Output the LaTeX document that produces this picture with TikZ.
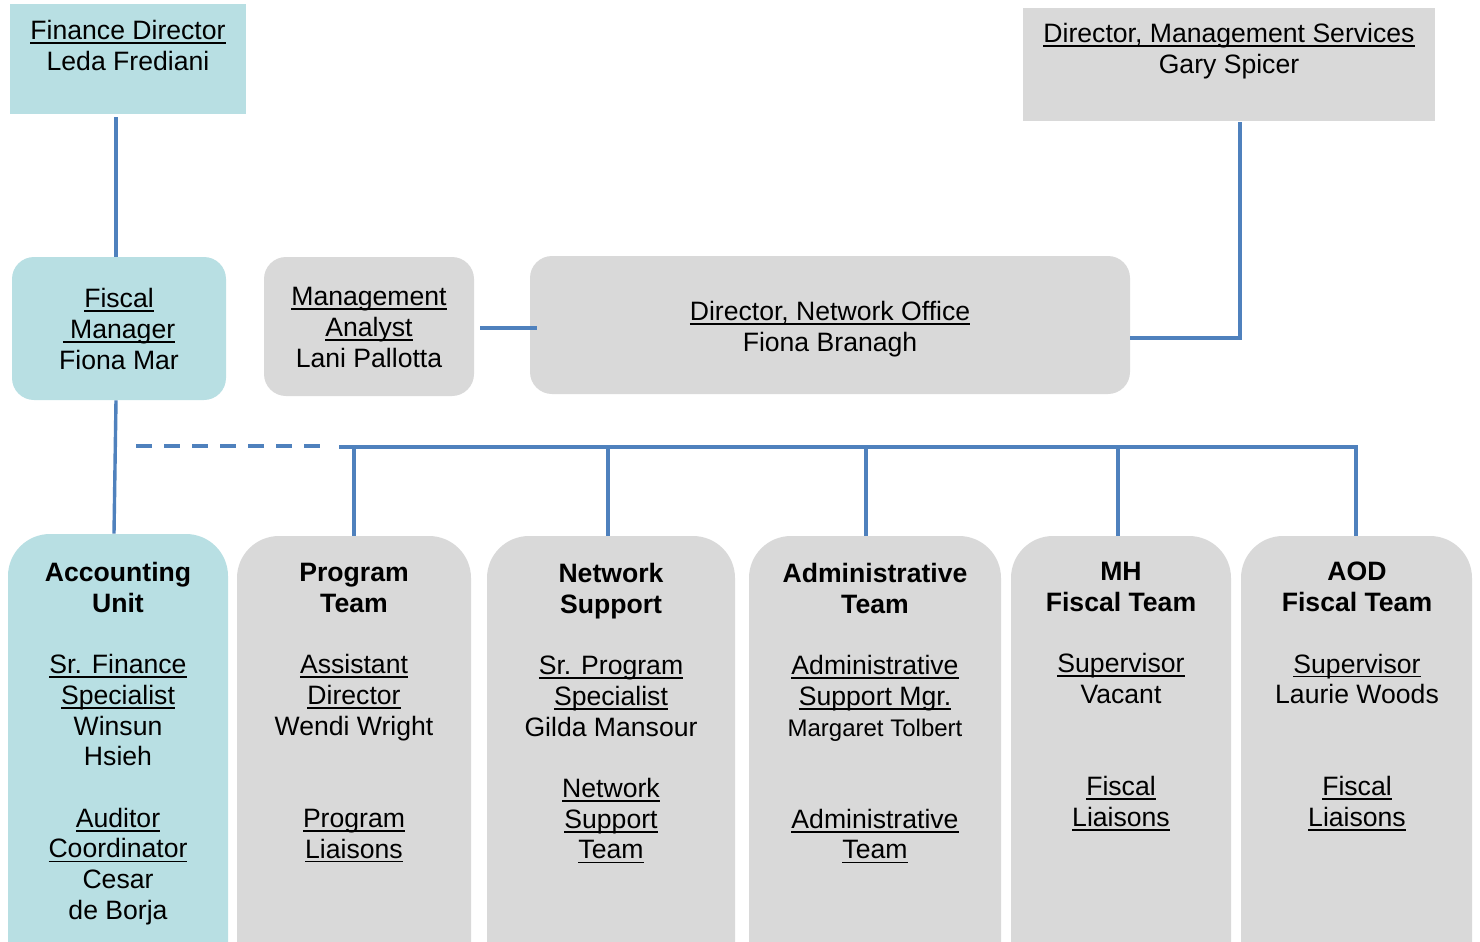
\documentclass[tikz,border=0pt]{standalone}
\usepackage{fontspec}
\setmainfont{Liberation Sans}
\usetikzlibrary{fit,calc}
\definecolor{tealfill}{HTML}{B8DFE3}
\definecolor{greyfill}{HTML}{D9D9D9}
\definecolor{linkblue}{HTML}{4F81BD}
\newsavebox\ulbox
\newcommand\ul[1]{\sbox\ulbox{#1}\rlap{\rule[-2.2pt]{\wd\ulbox}{0.9pt}}\usebox\ulbox}
\newcommand\fsz{\fontsize{13.3pt}{15.35pt}\selectfont}
\newcommand\fsm{\fontsize{12pt}{15.35pt}\selectfont}
\begin{document}
\begin{tikzpicture}[x=0.5pt,y=-0.5pt,
  tealbox/.style={fill=tealfill, draw=none, inner sep=0pt},
  greybox/.style={fill=greyfill, draw=none, inner sep=0pt},
  midround/.style={rounded corners=11pt},
  lowround/.style={rounded corners=21pt},
  txt/.style={anchor=north, inner sep=0pt, align=center, font=\fsz, execute at begin node=\strut},
  link/.style={draw=linkblue, line width=1.7pt},
  dashlink/.style={link, dash pattern=on 8pt off 6pt}]
\useasboundingbox (0,0) rectangle (1480,942);
\clip (0,0) rectangle (1480,942);

% boxes
\node[tealbox, fit={(10,4) (246,114)}] (fd) {};
\node[greybox, fit={(1023,8) (1435,121)}] (ms) {};
\node[tealbox, midround, fit={(12,257) (226,400)}] (fm) {};
\node[greybox, midround, fit={(264,257) (474,396)}] (ma) {};
\node[greybox, midround, fit={(530,256) (1130,394)}] (dno) {};
\node[tealbox, lowround, fit={(8,534) (228,1000)}] (acc) {};
\node[greybox, lowround, fit={(237,536) (471,1000)}] (prog) {};
\node[greybox, lowround, fit={(487,536) (735,1000)}] (net) {};
\node[greybox, lowround, fit={(749,536) (1001,1000)}] (adm) {};
\node[greybox, lowround, fit={(1011,536) (1231,1000)}] (mh) {};
\node[greybox, lowround, fit={(1241,536) (1472,1000)}] (aod) {};

% texts
\node[txt] (fdT) at (128,20) {\ul{Finance Director}\\Leda Frediani};
\node[txt] (msT) at (1229,23) {\ul{Director, Management Services}\\Gary Spicer};
\node[txt] (fmT) at (119,288) {\ul{Fiscal}\\\ul{\ Manager}\\Fiona Mar};
\node[txt] (maT) at (369,287) {\ul{Management}\\\ul{Analyst}\\Lani Pallotta};
\node[txt] (dnoT) at (830,301) {\ul{Director, Network Office}\\Fiona Branagh};

\node[txt] (accT) at (118,562) {\textbf{Accounting}\\\textbf{Unit}\\~\\\ul{Sr. Finance}\\\ul{Specialist}\\Winsun\\Hsieh\\~\\\ul{Auditor}\\\ul{Coordinator}\\Cesar\\de Borja};
\node[txt] (progT) at (354,563) {\textbf{Program}\\\textbf{Team}\\~\\\ul{Assistant}\\\ul{Director}\\Wendi Wright\\~\\~\\\ul{Program}\\\ul{Liaisons}};
\node[txt] (netT) at (611,563) {\textbf{Network}\\\textbf{Support}\\~\\\ul{Sr. Program}\\\ul{Specialist}\\Gilda Mansour\\~\\\ul{Network}\\\ul{Support}\\\ul{Team}};
\node[txt] (admT) at (875,563) {\textbf{Administrative}\\\textbf{Team}\\~\\\ul{Administrative}\\\ul{Support Mgr.}\\{\fsm Margaret Tolbert}\\~\\~\\\ul{Administrative}\\\ul{Team}};
\node[txt] (mhT) at (1121,562) {\textbf{MH}\\\textbf{Fiscal Team}\\~\\\ul{Supervisor}\\Vacant\\~\\~\\\ul{Fiscal}\\\ul{Liaisons}};
\node[txt] (aodT) at (1357,562) {\textbf{AOD}\\\textbf{Fiscal Team}\\~\\\ul{Supervisor}\\Laurie Woods\\~\\~\\\ul{Fiscal}\\\ul{Liaisons}};

% connectors
\coordinate (fdDrop) at (116,117);
\coordinate (busL) at (339,447);
\coordinate (busR) at (1356,447);
\coordinate (dashL) at (136,446);
\coordinate (dashR) at (322,446);
\coordinate (maOut) at (480,328);
\coordinate (dnoIn) at (537,328);
\coordinate (dnoOut) at (1130,338);
\coordinate (msCorner) at (1240,338);
\coordinate (msIn) at (1240,122);

\draw[link] (fdDrop) -- (fm.north -| fdDrop);
\draw[link] (fm.south -| fdDrop) -- (acc.north -| 114,0);
\draw[dashlink] (dashL) -- (dashR);
\draw[link] (maOut) -- (dnoIn);
\draw[link] (dnoOut) -- (msCorner) -- (msIn);
\draw[link] ($(dno.south)+(4,0)$) -- ($(dno.south)+(4,0)$ |- busL);
\draw[link] (busL) -- (busR) -- (aod.north -| busR);
\draw[link] (prog.north -| 354,0) -- (busL -| 354,0);
\draw[link] (net.north -| 608,0) -- (busL -| 608,0);
\draw[link] (adm.north -| 866,0) -- (busL -| 866,0);
\draw[link] (mh.north -| 1118,0) -- (busL -| 1118,0);
\end{tikzpicture}
\end{document}
